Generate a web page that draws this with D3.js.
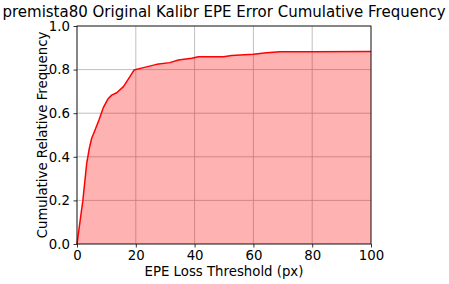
<!DOCTYPE html>
<html>
<head>
<meta charset="utf-8">
<script src="https://cdn.jsdelivr.net/npm/d3@7"></script>
<style>
  body { margin: 0; background: #fff; }
  text { font-family: "DejaVu Sans", sans-serif; fill: #000; }
</style>
</head>
<body>
<svg id="chart" width="449" height="284"></svg>
<script>
// threshold (px) and cumulative relative frequency
const thresholds = [0, 1, 2, 3.3, 4.2, 5, 5.9, 7.5, 9, 10.5, 11.8, 13.5, 15.8, 18, 19.4, 22.6, 27.1, 31.6, 34.5, 39, 41.3, 49.8, 52.6, 60, 64.5, 69, 80, 100];
const frequencies = [0, 0.1, 0.2, 0.37, 0.44, 0.485, 0.515, 0.57, 0.627, 0.665, 0.683, 0.694, 0.722, 0.768, 0.798, 0.809, 0.824, 0.832, 0.844, 0.852, 0.859, 0.859, 0.865, 0.87, 0.877, 0.882, 0.882, 0.883];
const xTicks = [0, 20, 40, 60, 80, 100];
const yTicks = [0, 0.2, 0.4, 0.6, 0.8, 1.0];

const data = thresholds.map((t, i) => ({ x: t, y: frequencies[i] }));

const svg = d3.select("#chart");
const margin = { left: 77, right: 78, top: 26, bottom: 40 };
const width = 449 - margin.left - margin.right;
const height = 284 - margin.top - margin.bottom;

const x = d3.scaleLinear().domain([0, 100]).range([0, width]);
const y = d3.scaleLinear().domain([0, 1]).range([height, 0]);

const g = svg.append("g")
  .attr("transform", "translate(" + margin.left + "," + margin.top + ")");

// grid
g.append("g").selectAll("line.vgrid")
  .data(xTicks)
  .enter().append("line")
  .attr("x1", d => x(d)).attr("x2", d => x(d))
  .attr("y1", 0).attr("y2", height)
  .attr("stroke", "#b0b0b0").attr("stroke-width", 0.8);
g.append("g").selectAll("line.hgrid")
  .data(yTicks)
  .enter().append("line")
  .attr("x1", 0).attr("x2", width)
  .attr("y1", d => y(d)).attr("y2", d => y(d))
  .attr("stroke", "#b0b0b0").attr("stroke-width", 0.8);

// area + line
g.append("path")
  .datum(data)
  .attr("fill", "red").attr("fill-opacity", 0.3)
  .attr("d", d3.area().x(d => x(d.x)).y0(y(0)).y1(d => y(d.y)));
g.append("path")
  .datum(data)
  .attr("fill", "none").attr("stroke", "red").attr("stroke-width", 1.5)
  .attr("stroke-linejoin", "round")
  .attr("d", d3.line().x(d => x(d.x)).y(d => y(d.y)));

// frame
g.append("rect")
  .attr("width", width).attr("height", height)
  .attr("fill", "none").attr("stroke", "#000").attr("stroke-width", 0.8);

// axes
const xAxis = g.append("g")
  .attr("transform", "translate(0," + height + ")")
  .call(d3.axisBottom(x).tickValues(xTicks).tickFormat(d3.format("d")).tickSize(3.5).tickPadding(3.5));
const yAxis = g.append("g")
  .call(d3.axisLeft(y).tickValues(yTicks).tickFormat(d3.format(".1f")).tickSize(3.5).tickPadding(3.5));
[xAxis, yAxis].forEach(a => {
  a.select(".domain").remove();
  a.selectAll("line").attr("stroke", "#000").attr("stroke-width", 0.8);
  a.selectAll("text").style("font-size", "13.3px").style("font-family", "DejaVu Sans");
});

// labels
svg.append("text")
  .attr("x", margin.left + width / 2).attr("y", 276)
  .attr("text-anchor", "middle").style("font-size", "13.3px")
  .text("EPE Loss Threshold (px)");
svg.append("text")
  .attr("transform", "translate(47," + (margin.top + height / 2) + ") rotate(-90)")
  .attr("text-anchor", "middle").style("font-size", "13.3px")
  .text("Cumulative Relative Frequency");
svg.append("text")
  .attr("x", margin.left + width / 2).attr("y", 17)
  .attr("text-anchor", "middle").style("font-size", "15px")
  .text("premista80 Original Kalibr EPE Error Cumulative Frequency");
</script>
</body>
</html>
